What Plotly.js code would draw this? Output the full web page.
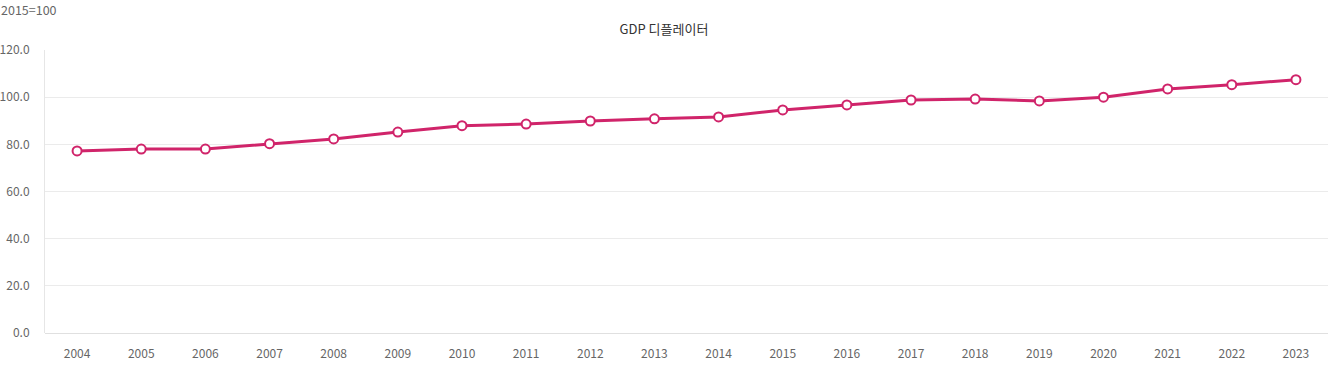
<!DOCTYPE html>
<html><head><meta charset="utf-8">
<script src="https://cdn.plot.ly/plotly-3.0.1.min.js"></script>
<style>body{margin:0;background:#fff}#c{width:1328px;height:370px}</style>
</head><body><div id="c"></div>
<script>
const years = ['2004','2005','2006','2007','2008','2009','2010','2011','2012','2013','2014','2015','2016','2017','2018','2019','2020','2021','2022','2023'];
const deflator = [77.2,78.0,78.0,80.3,82.3,85.2,87.9,88.6,89.9,90.8,91.6,94.6,96.7,98.8,99.2,98.4,100.0,103.5,105.3,107.4];
const yTicks = [0,20,40,60,80,100,120];
const yTickText = ['0.0','20.0','40.0','60.0','80.0','100.0','120.0'];
const font = '"Noto Sans CJK KR", "Noto Sans", sans-serif';
Plotly.newPlot('c', [{
  x: years, y: deflator, type: 'scatter', mode: 'lines+markers',
  line: {color: '#d0246a', width: 3},
  marker: {size: 9, color: '#ffffff', line: {color: '#d0246a', width: 2}},
  hoverinfo: 'x+y'
}], {
  width: 1328, height: 370,
  margin: {l: 45, r: 0, t: 50, b: 37},
  paper_bgcolor: '#fff', plot_bgcolor: '#fff',
  showlegend: false,
  font: {family: font, size: 12, color: '#666'},
  title: {text: 'GDP 디플레이터', x: 0.5, xanchor: 'center', y: 0.92, yanchor: 'middle', yref: 'container',
          font: {family: font, size: 13, color: '#333'}},
  xaxis: {type: 'category', range: [-0.5, 19.5], showgrid: false, zeroline: false,
          showline: false, ticks: '', ticklabelstandoff: 12, tickfont: {size: 12, color: '#666'}},
  yaxis: {range: [0, 120], tickvals: yTicks, ticktext: yTickText, showgrid: true, gridcolor: '#ebebeb',
          zeroline: true, zerolinecolor: '#e0e0e0', zerolinewidth: 1,
          showline: true, linecolor: '#e6e6e6', linewidth: 1, ticks: '', ticklabelstandoff: 12,
          tickfont: {size: 12, color: '#666'}},
  annotations: [{text: '2015=100', xref: 'paper', yref: 'paper', x: 0, y: 1, xanchor: 'left', yanchor: 'middle',
                 xshift: -46, yshift: 41, showarrow: false, font: {family: font, size: 12.5, color: '#666'}}]
}, {displayModeBar: false, staticPlot: false});
</script></body></html>
